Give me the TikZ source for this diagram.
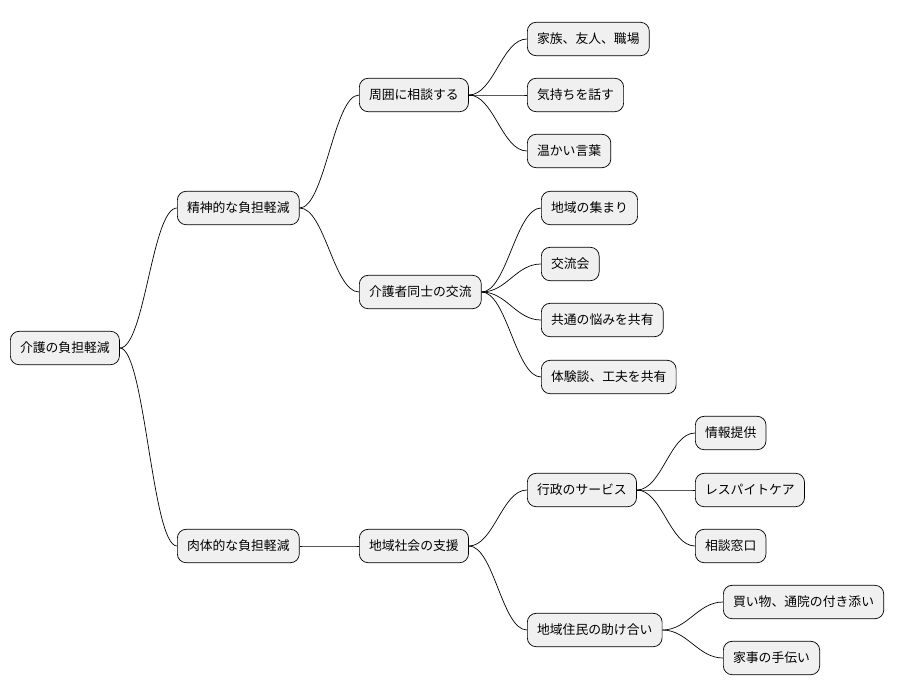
\documentclass[tikz,border=0pt]{standalone}
\usepackage{fontspec}
\setmainfont{Noto Sans CJK JP}
\begin{document}
\begin{tikzpicture}[x=0.02cm,y=-0.02cm,
  box/.style={draw, rounded corners=5pt, fill=black!6, anchor=west,
    minimum height=19pt, inner xsep=5.5pt, font=\fontsize{7.3}{8}\selectfont},
  link/.style={draw, line width=0.4pt}]
\useasboundingbox (0,0) rectangle (908,696);
\node[box] (root) at (10,348) {介護の負担軽減};
\node[box] (mind) at (177,208) {精神的な負担軽減};
\node[box] (body) at (177,546) {肉体的な負担軽減};
\node[box] (talk) at (359,95) {周囲に相談する};
\node[box] (peer) at (359,292) {介護者同士の交流};
\node[box] (comm) at (359,546) {地域社会の支援};
\node[box] (fam) at (527,39) {家族、友人、職場};
\node[box] (feel) at (527,95) {気持ちを話す};
\node[box] (warm) at (527,151) {温かい言葉};
\node[box] (meet) at (541,208) {地域の集まり};
\node[box] (club) at (541,264) {交流会};
\node[box] (worry) at (541,320) {共通の悩みを共有};
\node[box] (tips) at (541,377) {体験談、工夫を共有};
\node[box] (gov) at (527,490) {行政のサービス};
\node[box] (help) at (527,630) {地域住民の助け合い};
\node[box] (info) at (695,433) {情報提供};
\node[box] (resp) at (695,490) {レスパイトケア};
\node[box] (desk) at (695,546) {相談窓口};
\node[box] (shop) at (723,602) {買い物、通院の付き添い};
\node[box] (home) at (723,658) {家事の手伝い};
\foreach \a/\b in {root/mind, root/body, mind/talk, mind/peer, body/comm,
    talk/fam, talk/feel, talk/warm, peer/meet, peer/club, peer/worry, peer/tips,
    comm/gov, comm/help, gov/info, gov/resp, gov/desk, help/shop, help/home}
  \path[link] (\a.east) .. controls +(25,0) and +(-25,0) .. (\b.west);
\end{tikzpicture}
\end{document}
